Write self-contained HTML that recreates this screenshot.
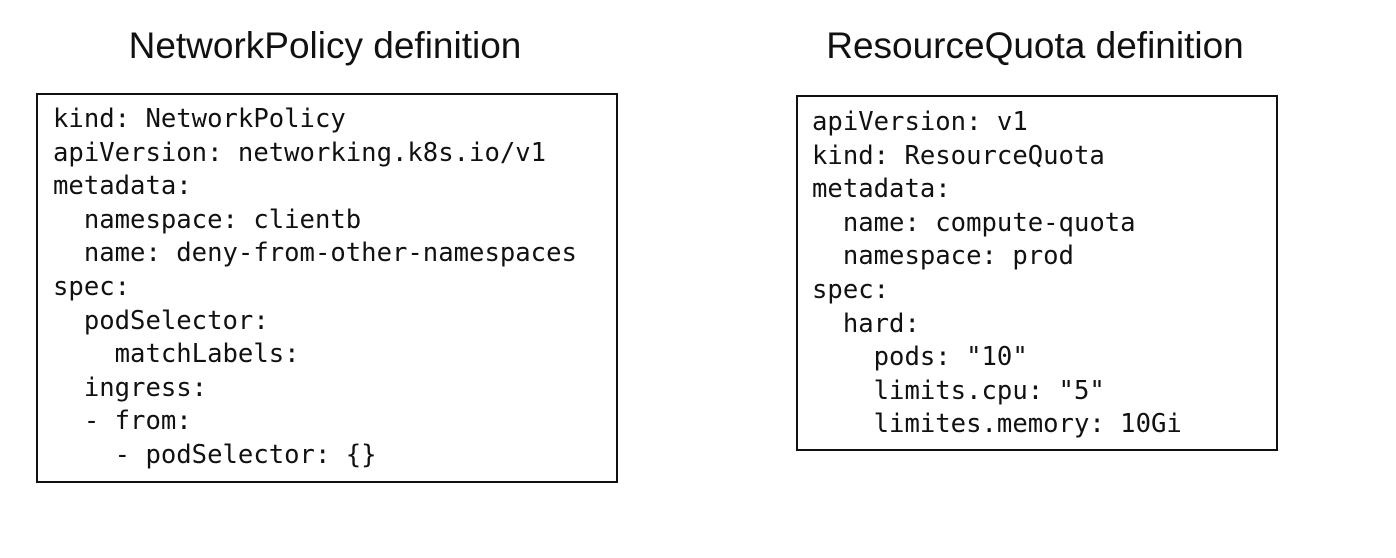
<!DOCTYPE html>
<html><head><meta charset="utf-8"><style>
html,body{margin:0;padding:0;background:#fff;width:1396px;height:558px;overflow:hidden;position:relative}
.t{position:absolute;font-family:"Liberation Sans",sans-serif;font-size:37px;color:#111;white-space:nowrap}
.b{position:absolute;border:2px solid #111;box-sizing:border-box}
pre{position:absolute;margin:0;font-family:"DejaVu Sans Mono","Liberation Mono",monospace;font-size:25.6px;line-height:33.6px;color:#111}
</style></head><body>
<div class="t" style="left:100px;top:25px;width:450px;text-align:center">NetworkPolicy definition</div>
<div class="t" style="left:800px;top:25px;width:470px;text-align:center">ResourceQuota definition</div>
<div class="b" style="left:36px;top:93px;width:582px;height:390px"></div>
<div class="b" style="left:796px;top:95px;width:482px;height:356px"></div>
<pre style="left:53px;top:103px">kind: NetworkPolicy
apiVersion: networking.k8s.io/v1
metadata:
  namespace: clientb
  name: deny-from-other-namespaces
spec:
  podSelector:
    matchLabels:
  ingress:
  - from:
    - podSelector: {}</pre>
<pre style="left:812px;top:106px">apiVersion: v1
kind: ResourceQuota
metadata:
  name: compute-quota
  namespace: prod
spec:
  hard:
    pods: "10"
    limits.cpu: "5"
    limites.memory: 10Gi</pre>
</body></html>
